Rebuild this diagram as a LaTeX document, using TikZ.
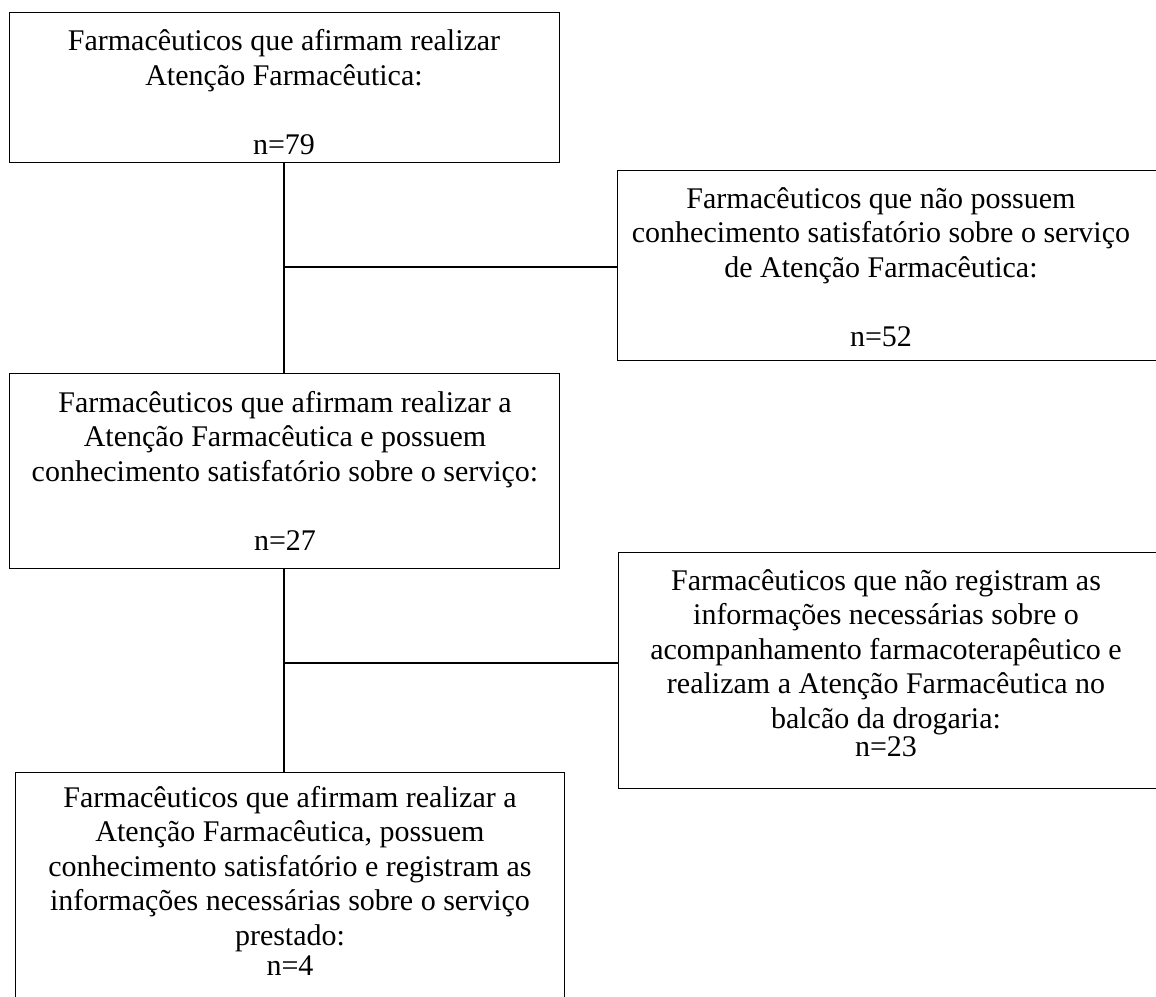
\documentclass[tikz,border=0pt]{standalone}
\usepackage{fontspec}
\setmainfont{Liberation Serif}
\begin{document}
\begin{tikzpicture}[x=1pt,y=-1pt,
  box/.style={draw=black,line width=1.3pt,inner sep=0pt,anchor=north west},
  txt/.style={align=center,inner sep=0pt,anchor=base,font=\fontsize{30}{34.5}\selectfont},
  conn/.style={draw=black,line width=1.3pt}]
\useasboundingbox (0,0) rectangle (1156,996);
\clip (0,0) rectangle (1156,996);
\node[box,minimum width=550pt,minimum height=150pt] (b1) at (9,12) {};
\node[box,minimum width=560pt,minimum height=190pt] (b2) at (617,170) {};
\node[box,minimum width=550pt,minimum height=195pt] (b3) at (9,373) {};
\node[box,minimum width=560pt,minimum height=236pt] (b4) at (618,552) {};
\node[box,minimum width=549pt,minimum height=240pt] (b5) at (15,772) {};
\node[txt] (t1) at (284,154) {Farmacêuticos que afirmam realizar\\Atenção Farmacêutica:\\[34.5pt]n=79};
\node[txt] (t2) at (881,346) {Farmacêuticos que não possuem\\conhecimento satisfatório sobre o serviço\\de Atenção Farmacêutica:\\[34.5pt]n=52};
\node[txt] (t3) at (285,550) {Farmacêuticos que afirmam realizar a\\Atenção Farmacêutica e possuem\\conhecimento satisfatório sobre o serviço:\\[34.5pt]n=27};
\node[txt] (t4) at (886,756) {Farmacêuticos que não registram as\\informações necessárias sobre o\\acompanhamento farmacoterapêutico e\\realizam a Atenção Farmacêutica no\\balcão da drogaria:\\[-6.5pt]n=23};
\node[txt] (t5) at (290,975) {Farmacêuticos que afirmam realizar a\\Atenção Farmacêutica, possuem\\conhecimento satisfatório e registram as\\informações necessárias sobre o serviço\\prestado:\\[-4.5pt]n=4};
\coordinate (a1) at (284,162);
\coordinate (a2) at (284,373);
\coordinate (h1) at (284,267);
\coordinate (a3) at (284,568);
\coordinate (a4) at (284,772);
\coordinate (h2) at (284,663);
\draw[conn] (a1) -- (a2);
\draw[conn] (h1) -- (b2.west |- h1);
\draw[conn] (a3) -- (a4);
\draw[conn] (h2) -- (b4.west |- h2);
\end{tikzpicture}
\end{document}
